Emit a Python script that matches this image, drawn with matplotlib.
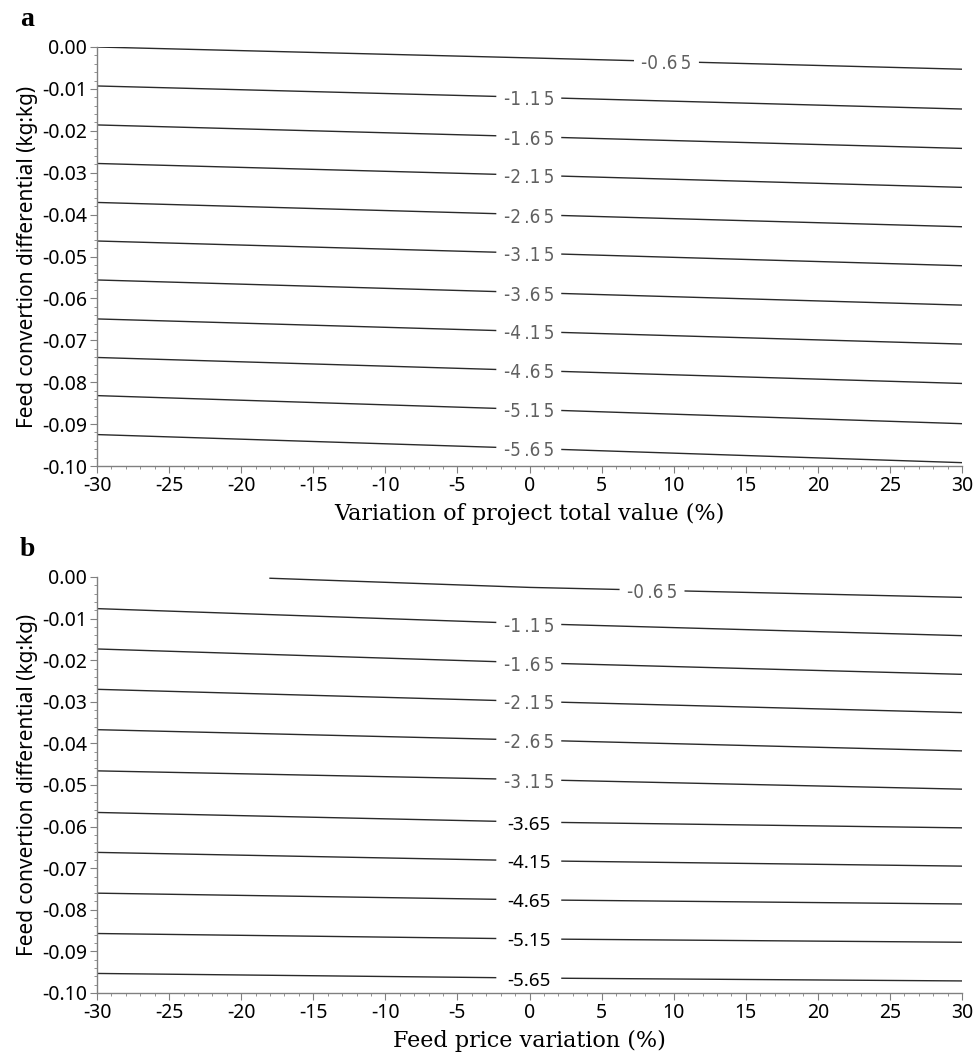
import numpy as np
import matplotlib
matplotlib.use("Agg")
import matplotlib.pyplot as plt
from matplotlib.ticker import MultipleLocator, FormatStrFormatter

plt.rcParams["font.family"] = ["Noto Sans", "DejaVu Sans"]
plt.rcParams["axes.unicode_minus"] = False

# contour levels (top to bottom)
levels = [-0.65, -1.15, -1.65, -2.15, -2.65, -3.15, -3.65, -4.15, -4.65, -5.15, -5.65]

# panel a: y of each contour at x = -30, 0, 30
a_left = [0.0000, -0.0093, -0.0186, -0.0278, -0.0371, -0.0463, -0.0556, -0.0649, -0.0741, -0.0832, -0.0925]
a_mid = [-0.0026, -0.0120, -0.0214, -0.0306, -0.0400, -0.0492, -0.0586, -0.0679, -0.0772, -0.0865, -0.0958]
a_right = [-0.0053, -0.0148, -0.0242, -0.0335, -0.0429, -0.0522, -0.0616, -0.0709, -0.0803, -0.0899, -0.0992]

# panel b: y of each contour at x = -30 (top line enters at x = -18), 0, 30
b_top_start = -18
b_left = [-0.0003, -0.0076, -0.0173, -0.0270, -0.0367, -0.0466, -0.0566, -0.0662, -0.0760, -0.0857, -0.0953]
b_mid = [-0.0025, -0.0112, -0.0206, -0.0299, -0.0392, -0.0487, -0.0589, -0.0682, -0.0776, -0.0870, -0.0964]
b_right = [-0.0049, -0.0141, -0.0234, -0.0326, -0.0418, -0.0510, -0.0603, -0.0695, -0.0786, -0.0878, -0.0971]

W, H = 974, 1059
fig = plt.figure(figsize=(W / 100, H / 100), dpi=100)


def thin_label(lvl):
    # the plotting software spaced these labels out
    s = f"{lvl:.2f}"
    a, b = s.split(".")
    return f"{a}\u2009.{b[0]}\u2009{b[1]}"


def draw_panel(ax, left, mid, right, top_start, top_label_x, n_thin):
    for i, lvl in enumerate(levels):
        xs = np.array([top_start if i == 0 else -30, 0, 30], dtype=float)
        ys = np.array([left[i], mid[i], right[i]])
        cx = top_label_x if i == 0 else -0.05
        half = 2.3
        g0, g1 = cx - half, cx + half
        xl = np.r_[xs[xs < g0], g0]
        xr = np.r_[g1, xs[xs > g1]]
        ax.plot(xl, np.interp(xl, xs, ys), color="#2a2a2a", lw=1.0)
        ax.plot(xr, np.interp(xr, xs, ys), color="#2a2a2a", lw=1.0)
        ty = np.interp(cx, xs, ys) - 0.0006
        if i < n_thin:
            ax.text(cx, ty, thin_label(lvl), ha="center", va="center", fontsize=13.5,
                    color="#606060", family="DejaVu Sans", fontweight="light",
                    fontstretch="condensed")
        else:
            ax.text(cx, ty, f"{lvl:.2f}", ha="center", va="center", fontsize=13.5,
                    color="black")

    ax.set_xlim(-30, 30)
    ax.set_ylim(-0.10, 0.0)
    ax.xaxis.set_major_locator(MultipleLocator(5))
    ax.xaxis.set_minor_locator(MultipleLocator(1))
    ax.yaxis.set_major_locator(MultipleLocator(0.01))
    ax.yaxis.set_minor_locator(MultipleLocator(0.002))
    ax.yaxis.set_major_formatter(FormatStrFormatter("%.2f"))
    for side in ["top", "right"]:
        ax.spines[side].set_visible(False)
    for side in ["left", "bottom"]:
        ax.spines[side].set_color("#808080")
        ax.spines[side].set_linewidth(1.0)
    ax.tick_params(which="major", direction="out", length=5, color="#808080",
                   labelsize=14, pad=2)
    ax.tick_params(which="minor", direction="out", length=2.5, color="#808080")
    ax.set_ylabel("Feed convertion differential (kg:kg)", fontsize=15, labelpad=3)


ax_a = fig.add_axes([97 / W, 1 - 466 / H, 865 / W, 419 / H])
draw_panel(ax_a, a_left, a_mid, a_right, -30, 9.5, 11)
ax_a.set_xlabel("Variation of project total value (%)", family="DejaVu Serif",
                fontsize=16, labelpad=5)

ax_b = fig.add_axes([97 / W, 1 - 993 / H, 865 / W, 416 / H])
draw_panel(ax_b, b_left, b_mid, b_right, b_top_start, 8.5, 6)
ax_b.set_xlabel("Feed price variation (%)", family="DejaVu Serif",
                fontsize=16, labelpad=5)

fig.text(20 / W, 1 - 20 / H, "a", family="Liberation Serif", fontweight="bold",
         fontsize=20, ha="left", va="center")
fig.text(20 / W, 1 - 549 / H, "b", family="Liberation Serif", fontweight="bold",
         fontsize=20, ha="left", va="center")

fig.savefig("out.png", dpi=100)
